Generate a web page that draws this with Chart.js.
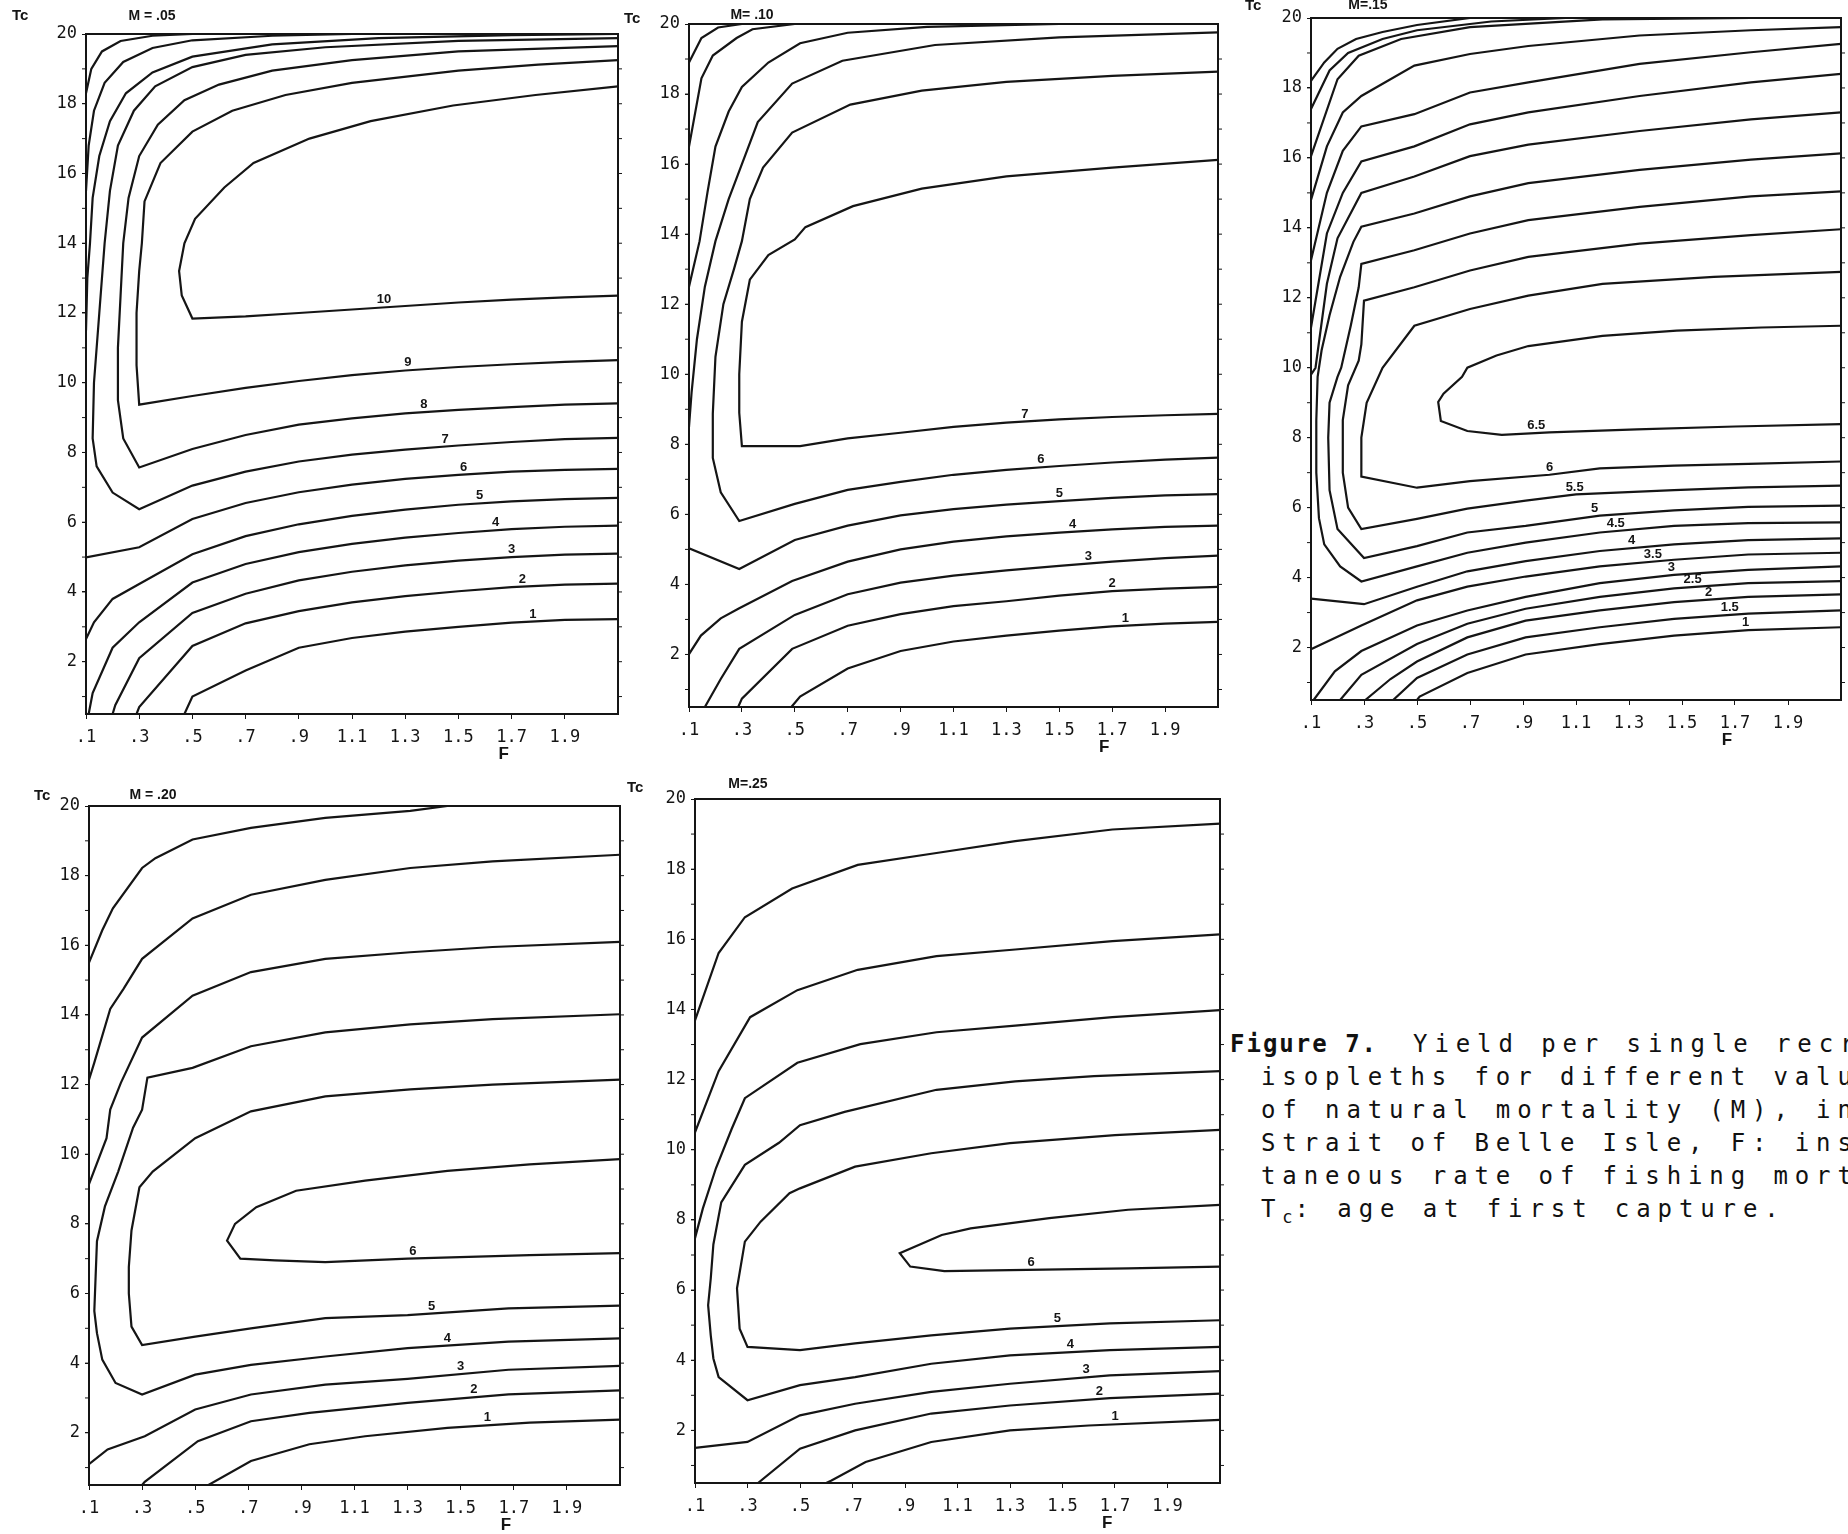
<!DOCTYPE html>
<html>
<head>
<meta charset="utf-8">
<script src="https://cdn.jsdelivr.net/npm/chart.js@4.4.1/dist/chart.umd.min.js"></script>
<style>
  html, body { margin: 0; padding: 0; background: #fff; }
  body { width: 1848px; height: 1534px; position: relative; overflow: hidden; }
  canvas { position: absolute; }
  #caption { position: absolute; left: 1230px; top: 1028px; color: #111;
    font-family: "DejaVu Sans Mono", monospace; font-size: 24px; line-height: 33px;
    letter-spacing: 6.9px; white-space: pre; }
  #caption .fig { font-weight: bold; letter-spacing: 2px; margin-right: 35px; }
  #caption .ind { padding-left: 31px; }
  #caption sub { font-size: 17px; letter-spacing: 2px; }
</style>
</head>
<body>
<div id="caption"><div><span class="fig">Figure 7.</span>Yield per single recruit</div><div class="ind">isopleths for different values</div><div class="ind">of natural mortality (M), in the</div><div class="ind">Strait of Belle Isle, F: instan-</div><div class="ind">taneous rate of fishing mortality,</div><div class="ind">T<sub>c</sub>: age at first capture.</div></div>
<script>
// axis ticks shared by all five panels
const X_TICKS = [0.1, 0.3, 0.5, 0.7, 0.9, 1.1, 1.3, 1.5, 1.7, 1.9];
const Y_TICKS = [2, 4, 6, 8, 10, 12, 14, 16, 18, 20];

// isopleths, points are [F, Tc]

// M = .05
const m05_1 = [[.47,.5],[.5,1.0],[.7,1.75],[.9,2.4],[1.1,2.68],[1.3,2.86],[1.5,3.0],[1.7,3.12],[1.9,3.2],[2.1,3.22]];
const m05_2 = [[.29,.5],[.3,.7],[.5,2.45],[.7,3.1],[.9,3.45],[1.1,3.7],[1.3,3.88],[1.5,4.02],[1.7,4.14],[1.9,4.21],[2.1,4.24]];
const m05_3 = [[.2,.5],[.21,.75],[.3,2.1],[.5,3.4],[.7,3.95],[.9,4.33],[1.1,4.58],[1.3,4.76],[1.5,4.9],[1.7,5.0],[1.9,5.07],[2.1,5.1]];
const m05_4 = [[.11,.5],[.125,1.1],[.2,2.4],[.3,3.13],[.5,4.27],[.7,4.8],[.9,5.14],[1.1,5.38],[1.3,5.56],[1.5,5.69],[1.7,5.8],[1.9,5.87],[2.1,5.9]];
const m05_5 = [[.1,2.65],[.13,3.13],[.2,3.8],[.3,4.23],[.5,5.08],[.7,5.6],[.9,5.94],[1.1,6.18],[1.3,6.36],[1.5,6.5],[1.7,6.6],[1.9,6.66],[2.1,6.7]];
const m05_6 = [[.1,4.99],[.3,5.28],[.5,6.09],[.7,6.55],[.9,6.86],[1.1,7.08],[1.3,7.24],[1.5,7.36],[1.7,7.45],[1.9,7.5],[2.1,7.53]];
const m05_7 = [[2.1,8.42],[1.9,8.38],[1.7,8.3],[1.5,8.2],[1.3,8.08],[1.1,7.94],[.9,7.74],[.7,7.45],[.5,7.05],[.3,6.37],[.2,6.85],[.14,7.6],[.125,8.4],[.13,10],[.15,12],[.17,14],[.19,15.5],[.22,16.8],[.28,17.8],[.36,18.5],[.5,19.05],[.7,19.4],[1.0,19.62],[1.5,19.8],[2.1,19.88]];
const m05_8 = [[2.1,9.41],[1.9,9.37],[1.7,9.3],[1.5,9.22],[1.3,9.12],[1.1,8.98],[.9,8.8],[.7,8.5],[.5,8.1],[.3,7.57],[.24,8.4],[.22,9.5],[.22,11],[.23,12.5],[.24,14],[.26,15.3],[.3,16.5],[.37,17.4],[.47,18.1],[.6,18.55],[.8,18.95],[1.1,19.25],[1.5,19.5],[2.1,19.65]];
const m05_9 = [[2.1,10.65],[1.9,10.6],[1.7,10.53],[1.5,10.45],[1.3,10.35],[1.1,10.22],[.9,10.05],[.7,9.85],[.5,9.62],[.3,9.37],[.29,10.5],[.29,12],[.3,13.2],[.31,14],[.32,15.2],[.38,16.3],[.5,17.2],[.65,17.8],[.85,18.25],[1.1,18.6],[1.5,18.95],[1.8,19.12],[2.1,19.25]];
const m05_10 = [[2.1,12.5],[1.9,12.45],[1.7,12.38],[1.5,12.3],[1.3,12.2],[1.1,12.1],[.9,12.0],[.7,11.9],[.5,11.84],[.46,12.5],[.45,13.2],[.47,14.0],[.51,14.7],[.62,15.6],[.73,16.3],[.94,17.0],[1.17,17.5],[1.48,17.95],[1.79,18.25],[2.1,18.5]];
const m05_6u = [[.1,11.5],[.105,13],[.115,14],[.125,15.3],[.15,16.5],[.19,17.5],[.25,18.3],[.35,18.9],[.5,19.35],[.8,19.7],[1.2,19.88],[1.7,19.97],[2.1,20]];
const m05_5u = [[.1,15.5],[.11,16.8],[.13,17.8],[.17,18.6],[.24,19.2],[.35,19.6],[.5,19.82],[.8,19.95],[1.1,20]];
const m05_4u = [[.1,18.3],[.12,19.0],[.16,19.5],[.23,19.8],[.35,19.95],[.5,20]];
const m05Lines = [m05_1, m05_2, m05_3, m05_4, m05_5, m05_6, m05_7, m05_8, m05_9, m05_10, m05_6u, m05_5u, m05_4u];
const m05Labels = ['1', '2', '3', '4', '5', '6', '7', '8', '9', '10'];
const m05LabelF = [1.78, 1.74, 1.7, 1.64, 1.58, 1.52, 1.45, 1.37, 1.31, 1.22];

// M = .10
const m10_1 = [[.487,.5],[.52,.8],[.7,1.6],[.9,2.1],[1.1,2.37],[1.3,2.54],[1.5,2.68],[1.7,2.8],[1.9,2.88],[2.1,2.93]];
const m10_2 = [[.286,.5],[.3,.74],[.49,2.16],[.7,2.82],[.9,3.15],[1.1,3.38],[1.3,3.52],[1.5,3.68],[1.7,3.81],[1.9,3.88],[2.1,3.93]];
const m10_3 = [[.16,.5],[.22,1.3],[.29,2.16],[.5,3.13],[.7,3.72],[.9,4.05],[1.1,4.25],[1.3,4.4],[1.5,4.53],[1.7,4.65],[1.9,4.75],[2.1,4.82]];
const m10_4 = [[.1,2.01],[.145,2.54],[.22,3.03],[.29,3.32],[.49,4.1],[.7,4.65],[.9,5.0],[1.1,5.22],[1.3,5.37],[1.5,5.48],[1.7,5.57],[1.9,5.64],[2.1,5.68]];
const m10_5 = [[.1,5.03],[.29,4.44],[.5,5.27],[.7,5.68],[.9,5.97],[1.1,6.15],[1.3,6.28],[1.5,6.38],[1.7,6.47],[1.9,6.54],[2.1,6.58]];
const m10_6 = [[2.1,7.62],[1.9,7.56],[1.7,7.48],[1.5,7.38],[1.3,7.27],[1.1,7.13],[.9,6.93],[.7,6.7],[.5,6.3],[.29,5.81],[.22,6.63],[.19,7.61],[.19,8.87],[.2,10.5],[.23,12],[.27,13],[.3,13.8],[.33,15.0],[.38,15.9],[.49,16.9],[.71,17.7],[.98,18.1],[1.3,18.35],[1.7,18.52],[2.1,18.64]];
const m10_7 = [[2.1,8.87],[1.9,8.83],[1.7,8.78],[1.5,8.71],[1.3,8.62],[1.1,8.5],[.9,8.33],[.7,8.17],[.52,7.95],[.3,7.95],[.29,8.9],[.29,10],[.3,11.5],[.33,12.7],[.4,13.4],[.5,13.85],[.54,14.2],[.72,14.8],[.98,15.3],[1.3,15.65],[1.7,15.9],[2.1,16.12]];
const m10_5u = [[.1,8.5],[.11,9.5],[.13,11],[.16,12.5],[.2,13.8],[.25,15.0],[.3,16.0],[.36,17.2],[.49,18.3],[.68,18.95],[1.03,19.4],[1.5,19.62],[2.1,19.76]];
const m10_4u = [[.1,12.5],[.14,13.8],[.17,15.2],[.2,16.5],[.25,17.5],[.3,18.2],[.4,18.9],[.52,19.45],[.7,19.75],[1.0,19.92],[1.5,20]];
const m10_3u = [[.1,16.5],[.147,18.45],[.19,19.1],[.28,19.6],[.34,19.85],[.5,20]];
const m10_2u = [[.1,18.9],[.147,19.6],[.21,19.9],[.3,20]];
const m10Lines = [m10_1, m10_2, m10_3, m10_4, m10_5, m10_6, m10_7, m10_5u, m10_4u, m10_3u, m10_2u];
const m10Labels = ['1', '2', '3', '4', '5', '6', '7'];
const m10LabelF = [1.75, 1.7, 1.61, 1.55, 1.5, 1.43, 1.37];

// M = .15
const m15_1 = [[.5,.5],[.51,.6],[.69,1.27],[.91,1.8],[1.19,2.1],[1.47,2.34],[1.75,2.5],[2.1,2.58]];
const m15_15 = [[.41,.5],[.5,1.13],[.69,1.8],[.91,2.29],[1.19,2.58],[1.47,2.82],[1.75,2.97],[2.1,3.06]];
const m15_2 = [[.305,.5],[.4,1.1],[.5,1.6],[.69,2.29],[.91,2.77],[1.19,3.06],[1.47,3.3],[1.75,3.45],[2.1,3.52]];
const m15_25 = [[.21,.5],[.29,1.22],[.5,2.1],[.69,2.68],[.91,3.11],[1.19,3.45],[1.47,3.69],[1.75,3.84],[2.1,3.9]];
const m15_3 = [[.11,.5],[.19,1.32],[.29,1.9],[.5,2.63],[.69,3.06],[.91,3.45],[1.19,3.84],[1.47,4.08],[1.75,4.22],[2.1,4.32]];
const m15_35 = [[.1,1.95],[.29,2.63],[.5,3.35],[.69,3.74],[.91,4.03],[1.19,4.32],[1.47,4.51],[1.75,4.66],[2.1,4.71]];
const m15_4 = [[.1,3.4],[.3,3.24],[.5,3.74],[.69,4.18],[.91,4.47],[1.19,4.76],[1.47,4.95],[1.75,5.07],[2.1,5.12]];
const m15_45 = [[2.1,5.58],[1.75,5.56],[1.47,5.48],[1.19,5.29],[.91,5.0],[.69,4.71],[.5,4.32],[.29,3.89],[.21,4.32],[.15,4.95],[.13,5.7],[.12,7.0],[.12,8.5],[.125,9.74],[.14,10.5],[.17,11.5],[.21,12.6],[.26,13.6],[.29,14.03],[.49,14.41],[.7,14.9],[.92,15.28],[1.34,15.66],[1.76,15.95],[2.1,16.13]];
const m15_5 = [[2.1,6.06],[1.75,6.02],[1.47,5.92],[1.19,5.77],[.91,5.48],[.69,5.29],[.5,4.9],[.3,4.56],[.2,5.39],[.17,6.5],[.165,8],[.17,9.0],[.2,9.74],[.214,10],[.25,11.2],[.28,12.3],[.29,12.97],[.49,13.36],[.7,13.84],[.92,14.22],[1.34,14.6],[1.76,14.9],[2.1,15.04]];
const m15_55 = [[2.1,6.63],[1.75,6.58],[1.47,6.5],[1.1,6.38],[.91,6.2],[.69,5.97],[.5,5.68],[.29,5.39],[.24,6.0],[.22,7.0],[.22,8.5],[.24,9.5],[.28,10.2],[.29,10.67],[.3,11.92],[.49,12.3],[.7,12.78],[.92,13.17],[1.34,13.55],[1.76,13.79],[2.1,13.96]];
const m15_6 = [[2.1,7.32],[1.75,7.25],[1.47,7.2],[1.19,7.12],[1.0,6.94],[.7,6.76],[.5,6.57],[.29,6.89],[.29,8.0],[.31,9.0],[.37,10.0],[.49,11.2],[.7,11.68],[.92,12.06],[1.2,12.4],[1.62,12.6],[2.1,12.74]];
const m15_65 = [[2.1,8.39],[1.7,8.32],[1.33,8.24],[1.0,8.15],[.82,8.08],[.69,8.19],[.59,8.48],[.58,9.02],[.6,9.26],[.67,9.74],[.69,10.0],[.8,10.35],[.92,10.62],[1.2,10.91],[1.48,11.06],[1.8,11.15],[2.1,11.2]];
const m15_4u = [[.1,9.8],[.117,10],[.16,12.4],[.2,13.7],[.29,15],[.49,15.47],[.7,16.05],[.92,16.38],[1.34,16.77],[1.76,17.1],[2.1,17.3]];
const m15_35u = [[.1,11.15],[.16,13.84],[.22,15.0],[.29,15.9],[.49,16.33],[.7,16.96],[.92,17.3],[1.34,17.77],[1.76,18.16],[2.1,18.4]];
const m15_3u = [[.1,13.07],[.16,15],[.22,16.2],[.29,16.9],[.49,17.25],[.7,17.87],[.92,18.16],[1.34,18.69],[1.76,19.02],[2.1,19.26]];
const m15_25u = [[.1,14.8],[.16,16.33],[.22,17.3],[.29,17.77],[.49,18.64],[.7,18.97],[.92,19.2],[1.34,19.5],[1.76,19.65],[2.1,19.74]];
const m15_2u = [[.1,16.05],[.2,18.25],[.28,18.92],[.44,19.4],[.7,19.74],[1.2,19.96],[1.76,20]];
const m15_15u = [[.1,17.4],[.17,18.5],[.24,19.0],[.37,19.4],[.5,19.65],[.78,19.9],[1.06,20]];
const m15_1u = [[.1,18.2],[.15,18.73],[.2,19.12],[.27,19.4],[.37,19.6],[.5,19.8],[.7,20]];
const m15Lines = [m15_1, m15_15, m15_2, m15_25, m15_3, m15_35, m15_4, m15_45, m15_5, m15_55, m15_6, m15_65,
  m15_4u, m15_35u, m15_3u, m15_25u, m15_2u, m15_15u, m15_1u];
const m15Labels = ['1', '1.5', '2', '2.5', '3', '3.5', '4', '4.5', '5', '5.5', '6', '6.5'];
const m15LabelF = [1.74, 1.68, 1.6, 1.54, 1.46, 1.39, 1.31, 1.25, 1.17, 1.095, 1.0, 0.95];

// M = .20
const m20_1 = [[.55,.5],[.71,1.19],[.93,1.67],[1.14,1.9],[1.45,2.14],[1.76,2.29],[2.1,2.38]];
const m20_2 = [[.3,.5],[.31,.59],[.51,1.76],[.71,2.33],[.93,2.57],[1.3,2.86],[1.68,3.1],[2.1,3.22]];
const m20_3 = [[.1,1.1],[.17,1.52],[.31,1.9],[.5,2.67],[.71,3.1],[.99,3.38],[1.3,3.55],[1.68,3.81],[2.1,3.92]];
const m20_4 = [[2.1,4.71],[1.68,4.62],[1.3,4.43],[.99,4.19],[.71,3.95],[.5,3.67],[.3,3.1],[.2,3.43],[.15,4.1],[.13,4.86],[.12,5.5],[.125,6.5],[.13,7.5],[.16,8.5],[.21,9.5],[.266,10.76],[.3,11.28],[.32,12.2],[.49,12.48],[.71,13.1],[.99,13.5],[1.31,13.73],[1.62,13.88],[2.1,14.02]];
const m20_5 = [[2.1,5.65],[1.68,5.57],[1.3,5.38],[.99,5.29],[.71,5.0],[.5,4.76],[.3,4.52],[.26,5.05],[.25,6.0],[.25,6.76],[.26,7.81],[.29,9.05],[.34,9.5],[.5,10.46],[.71,11.23],[.99,11.66],[1.31,11.86],[1.62,12.0],[2.1,12.14]];
const m20_6 = [[2.1,7.16],[1.76,7.1],[1.3,7.0],[.99,6.9],[.8,6.95],[.67,7.0],[.62,7.52],[.65,8.0],[.73,8.48],[.88,8.95],[1.14,9.24],[1.45,9.52],[1.76,9.71],[2.1,9.86]];
const m20_3u = [[.1,9.14],[.166,10.46],[.18,11.28],[.22,12.05],[.3,13.35],[.49,14.55],[.71,15.23],[.99,15.61],[1.31,15.8],[1.62,15.95],[2.1,16.1]];
const m20_2u = [[.1,12.14],[.12,12.63],[.18,14.17],[.23,14.75],[.3,15.61],[.49,16.77],[.71,17.45],[.99,17.88],[1.31,18.22],[1.62,18.41],[2.1,18.6]];
const m20_1u = [[.1,15.5],[.15,16.43],[.19,17.06],[.3,18.22],[.35,18.5],[.49,19.04],[.71,19.37],[.99,19.66],[1.31,19.86],[1.45,20]];
const m20Lines = [m20_1, m20_2, m20_3, m20_4, m20_5, m20_6, m20_3u, m20_2u, m20_1u];
const m20Labels = ['1', '2', '3', '4', '5', '6'];
const m20LabelF = [1.6, 1.55, 1.5, 1.45, 1.39, 1.32];

// M = .25
const m25_1 = [[.6,.5],[.62,.57],[.75,1.1],[1.0,1.67],[1.3,2.0],[1.6,2.14],[2.1,2.3]];
const m25_2 = [[.34,.5],[.5,1.48],[.71,2.0],[1.0,2.48],[1.3,2.71],[1.68,2.92],[2.1,3.05]];
const m25_3 = [[.1,1.5],[.3,1.67],[.5,2.43],[.71,2.76],[1.0,3.1],[1.3,3.33],[1.68,3.57],[2.1,3.69]];
const m25_4 = [[2.1,4.38],[1.68,4.29],[1.3,4.14],[1.0,3.9],[.71,3.52],[.5,3.29],[.3,2.86],[.19,3.52],[.17,4.05],[.16,4.71],[.15,5.57],[.16,6.33],[.17,7.3],[.2,8.5],[.29,9.57],[.42,10.2],[.5,10.7],[.67,11.08],[1.02,11.71],[1.32,11.95],[1.62,12.1],[2.1,12.24]];
const m25_5 = [[2.1,5.14],[1.68,5.05],[1.3,4.9],[1.0,4.71],[.71,4.48],[.5,4.29],[.3,4.38],[.27,4.9],[.26,6.05],[.29,7.38],[.35,7.95],[.46,8.76],[.5,8.9],[.71,9.52],[1.0,9.9],[1.3,10.19],[1.7,10.42],[2.1,10.57]];
const m25_6 = [[2.1,6.67],[1.75,6.62],[1.3,6.57],[1.05,6.54],[.92,6.67],[.88,7.05],[1.04,7.57],[1.15,7.76],[1.45,8.05],[1.75,8.29],[2.1,8.43]];
const m25_3u = [[.1,7.48],[.13,8.33],[.18,9.48],[.24,10.6],[.29,11.47],[.49,12.48],[.73,13.01],[1.02,13.35],[1.32,13.54],[1.69,13.78],[2.1,13.98]];
const m25_2u = [[.1,10.5],[.19,12.24],[.31,13.78],[.49,14.55],[.72,15.13],[1.02,15.52],[1.32,15.71],[1.69,15.95],[2.1,16.14]];
const m25_1u = [[.1,13.69],[.19,15.61],[.29,16.63],[.47,17.45],[.72,18.12],[1.02,18.46],[1.32,18.8],[1.69,19.13],[2.1,19.3]];
const m25Lines = [m25_1, m25_2, m25_3, m25_4, m25_5, m25_6, m25_3u, m25_2u, m25_1u];
const m25Labels = ['1', '2', '3', '4', '5', '6'];
const m25LabelF = [1.7, 1.64, 1.59, 1.53, 1.48, 1.38];

// where each plot area sits on the page: [left, top, right, bottom]
const PANELS = [
  { title: 'M = .05', lines: m05Lines, labels: m05Labels, labelF: m05LabelF, box: [86, 34, 618, 714], tc: [-74, -18], ttl: [66, -18] },
  { title: 'M= .10', lines: m10Lines, labels: m10Labels, labelF: m10LabelF, box: [689, 24, 1218, 707], tc: [-65, -5], ttl: [63, -9] },
  { title: 'M=.15', lines: m15Lines, labels: m15Labels, labelF: m15LabelF, box: [1311, 18, 1841, 700], tc: [-66, -12], ttl: [57, -13] },
  { title: 'M = .20', lines: m20Lines, labels: m20Labels, labelF: m20LabelF, box: [89, 806, 620, 1485], tc: [-55, -10], ttl: [64, -11] },
  { title: 'M=.25', lines: m25Lines, labels: m25Labels, labelF: m25LabelF, box: [695, 799, 1220, 1483], tc: [-68, -11], ttl: [53, -15] }
];

const AX_W = 80, AX_H = 90, PAD_T = 45, PAD_R = 20;
const MONO = '"DejaVu Sans Mono", monospace';
const SANS = '"Liberation Sans", Arial, sans-serif';
const INK = '#151515';

function fmtF(v) {
  const s = Number(v).toFixed(1);
  return s.startsWith('0') ? s.slice(1) : s;
}

// Tc of a polyline at a given F, first crossing found
function tcAt(pts, f) {
  for (let k = 0; k < pts.length - 1; k++) {
    const a = pts[k], b = pts[k + 1];
    if (a[0] !== b[0] && (a[0] - f) * (b[0] - f) <= 0) {
      return a[1] + (b[1] - a[1]) * (f - a[0]) / (b[0] - a[0]);
    }
  }
  return null;
}

function decor(p) {
  return {
    id: 'decor',
    afterDraw(chart) {
      const { ctx, chartArea: a, scales: { x, y } } = chart;
      ctx.save();
      ctx.strokeStyle = INK;
      ctx.lineWidth = 2;
      ctx.strokeRect(a.left, a.top, a.right - a.left, a.bottom - a.top);
      // small marks along the left and right frame
      ctx.lineWidth = 1;
      for (let t = 1; t <= 19; t++) {
        const py = y.getPixelForValue(t);
        ctx.beginPath();
        ctx.moveTo(a.left - 4, py); ctx.lineTo(a.left, py);
        ctx.moveTo(a.right, py); ctx.lineTo(a.right + 4, py);
        ctx.stroke();
      }
      ctx.fillStyle = INK;
      ctx.textBaseline = 'middle';
      ctx.textAlign = 'left';
      ctx.font = 'bold 15px ' + SANS;
      ctx.fillText('Tc', a.left + p.tc[0], a.top + p.tc[1]);
      ctx.textAlign = 'center';
      ctx.font = 'bold 14px ' + SANS;
      ctx.fillText(p.title, a.left + p.ttl[0], a.top + p.ttl[1]);
      ctx.font = 'bold 17px ' + SANS;
      ctx.fillText('F', x.getPixelForValue(1.67), a.bottom + 40);
      ctx.font = 'bold 13px ' + SANS;
      ctx.textBaseline = 'bottom';
      p.labels.forEach((txt, i) => {
        const f = p.labelF[i];
        const tc = tcAt(p.lines[i], f);
        if (tc === null) return;
        ctx.fillText(txt, x.getPixelForValue(f), y.getPixelForValue(tc) - 1);
      });
      ctx.restore();
    }
  };
}

function makePanel(p) {
  const [l, t, r, b] = p.box;
  const W = r - l + AX_W + PAD_R;
  const H = b - t + PAD_T + AX_H;
  const cv = document.createElement('canvas');
  cv.width = W; cv.height = H;
  cv.style.width = W + 'px'; cv.style.height = H + 'px';
  cv.style.left = (l - AX_W) + 'px';
  cv.style.top = (t - PAD_T) + 'px';
  document.body.appendChild(cv);

  new Chart(cv.getContext('2d'), {
    type: 'scatter',
    data: {
      datasets: p.lines.map(pts => ({
        data: pts.map(([f, tc]) => ({ x: f, y: tc })),
        showLine: true,
        borderColor: INK,
        borderWidth: 2.2,
        pointRadius: 0,
        tension: 0,
        fill: false
      }))
    },
    options: {
      responsive: false,
      animation: false,
      devicePixelRatio: 1,
      layout: { padding: { left: 0, top: PAD_T, right: PAD_R, bottom: 0 } },
      plugins: { legend: { display: false }, tooltip: { enabled: false } },
      scales: {
        x: {
          type: 'linear', min: 0.1, max: 2.1,
          afterBuildTicks: s => { s.ticks = X_TICKS.map(v => ({ value: v })); },
          afterFit: s => { s.height = AX_H; },
          grid: { drawOnChartArea: false, tickLength: 5, color: INK },
          border: { color: INK, width: 2 },
          ticks: { callback: v => fmtF(v), padding: 8, color: INK, autoSkip: false, maxRotation: 0,
                   font: { family: MONO, size: 17 } }
        },
        y: {
          type: 'linear', min: 0.5, max: 20,
          afterBuildTicks: s => { s.ticks = Y_TICKS.map(v => ({ value: v })); },
          afterFit: s => { s.width = AX_W; },
          grid: { drawOnChartArea: false, tickLength: 4, color: INK },
          border: { color: INK, width: 2 },
          ticks: { callback: v => String(v), padding: 5, color: INK,
                   font: { family: MONO, size: 17 } }
        }
      }
    },
    plugins: [decor(p)]
  });
}

PANELS.forEach(makePanel);
</script>
</body>
</html>
